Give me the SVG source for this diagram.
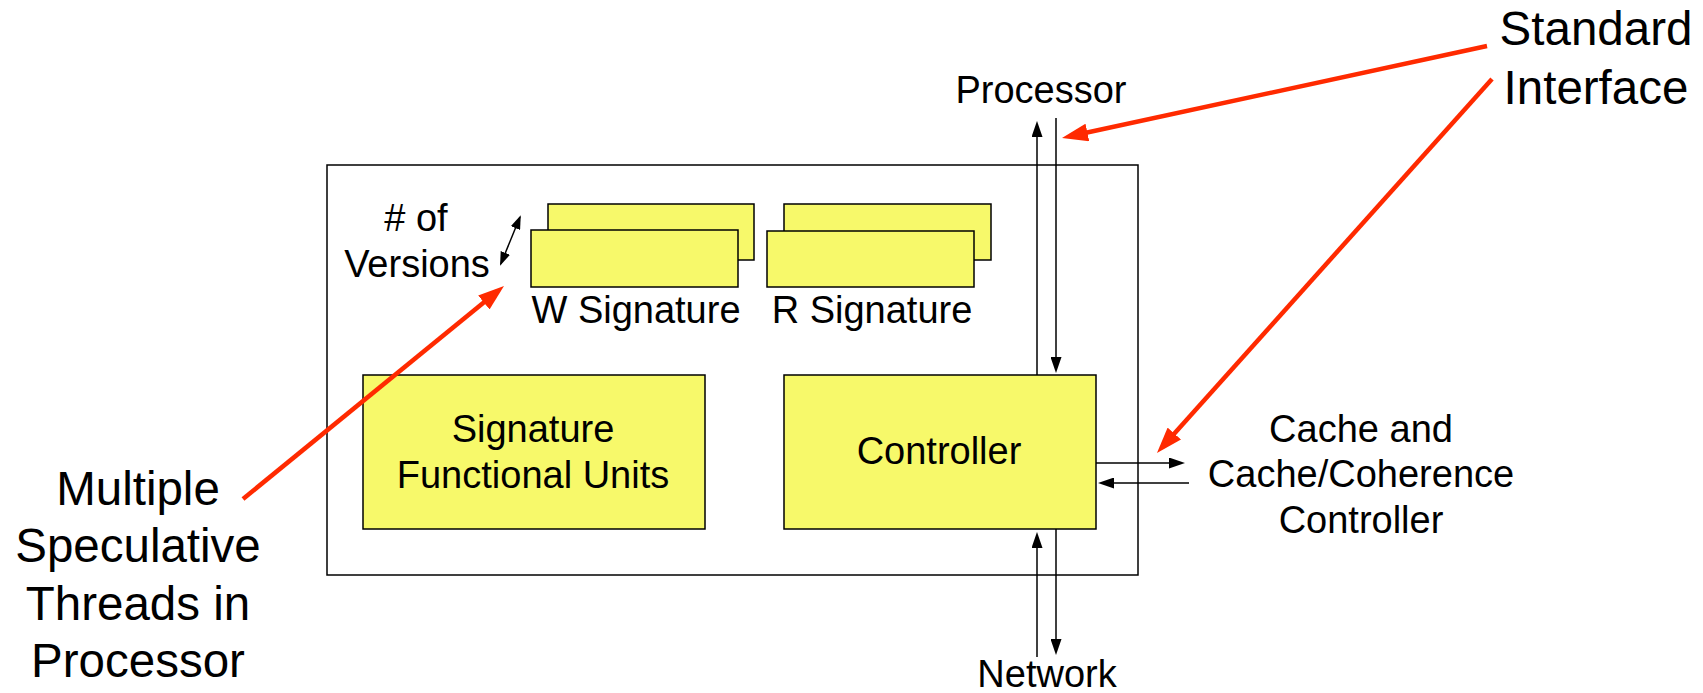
<svg xmlns="http://www.w3.org/2000/svg" width="1703" height="693" viewBox="0 0 1703 693">
<style>
text { font-family: "Liberation Sans", Arial, sans-serif; fill: #000; text-anchor: middle; }
.s { font-size: 38px; }
.l { font-size: 47.5px; }
.box { fill: #F7F96A; stroke: #000; stroke-width: 1.5; }
.frame { fill: none; stroke: #000; stroke-width: 1.5; }
.blk { stroke: #000; stroke-width: 1.5; fill: none; marker-end: url(#ah); }
.red { stroke: #FF2A00; stroke-width: 4.5; fill: none; marker-end: url(#rh); }
</style>
<defs>
<marker id="ah" markerUnits="userSpaceOnUse" markerWidth="16" markerHeight="11" refX="13" refY="5.5" orient="auto">
<path d="M0,0 L16,5.5 L0,11 z" fill="#000"/>
</marker>
<marker id="sh" markerUnits="userSpaceOnUse" markerWidth="14" markerHeight="10" refX="12" refY="5" orient="auto-start-reverse">
<path d="M0,0 L14,5 L0,10 z" fill="#000"/>
</marker>
<marker id="rh" markerUnits="userSpaceOnUse" markerWidth="26" markerHeight="18" refX="18" refY="9" orient="auto">
<path d="M0,0 L26,9 L0,18 z" fill="#FF2A00"/>
</marker>
</defs>
<g id="frame">
<rect class="frame" x="327" y="165" width="811" height="410"/>
</g>
<g id="w-signature">
<rect class="box" x="548" y="204" width="206" height="56"/>
<rect class="box" x="531" y="230" width="207" height="57"/>
<text class="s" x="636" y="323">W Signature</text>
</g>
<g id="r-signature">
<rect class="box" x="784" y="204" width="207" height="56"/>
<rect class="box" x="767" y="231" width="207" height="56"/>
<text class="s" x="872" y="323">R Signature</text>
</g>
<g id="versions">
<text class="s" x="416" y="231"># of</text>
<text class="s" x="417" y="277">Versions</text>
</g>
<g id="sfu">
<rect class="box" x="363" y="375" width="342" height="154"/>
<text class="s" x="533" y="442">Signature</text>
<text class="s" x="533" y="488">Functional Units</text>
</g>
<g id="controller">
<rect class="box" x="784" y="375" width="312" height="154"/>
<text class="s" x="939" y="464">Controller</text>
</g>
<g id="processor">
<text class="s" x="1041" y="103">Processor</text>
</g>
<g id="network">
<text class="s" x="1047" y="687">Network</text>
</g>
<g id="cache">
<text class="s" x="1361" y="442">Cache and</text>
<text class="s" x="1361" y="487">Cache/Coherence</text>
<text class="s" x="1361" y="533">Controller</text>
</g>
<g id="standard-interface">
<text class="l" x="1596" y="45">Standard</text>
<text class="l" x="1596" y="104">Interface</text>
</g>
<g id="threads">
<text class="l" x="138" y="505">Multiple</text>
<text class="l" x="138" y="562">Speculative</text>
<text class="l" x="138" y="620">Threads in</text>
<text class="l" x="138" y="677">Processor</text>
</g>
<g id="connectors">
<line class="blk" x1="1037" y1="375" x2="1037" y2="124"/>
<line class="blk" x1="1056" y1="118" x2="1056" y2="370"/>
<line class="blk" x1="1037" y1="657" x2="1037" y2="535"/>
<line class="blk" x1="1056" y1="529" x2="1056" y2="652"/>
<line class="blk" x1="1096" y1="463" x2="1182" y2="463"/>
<line class="blk" x1="1189" y1="483" x2="1101" y2="483"/>
<line x1="500.8" y1="264" x2="520" y2="217" stroke="#000" stroke-width="1.5" marker-start="url(#sh)" marker-end="url(#sh)"/>
<line class="red" x1="1487" y1="46" x2="1069.8" y2="136.3"/>
<line class="red" x1="1492" y1="79" x2="1162.3" y2="447"/>
<line class="red" x1="243" y1="499" x2="497.8" y2="291.1"/>
</g>
</svg>
